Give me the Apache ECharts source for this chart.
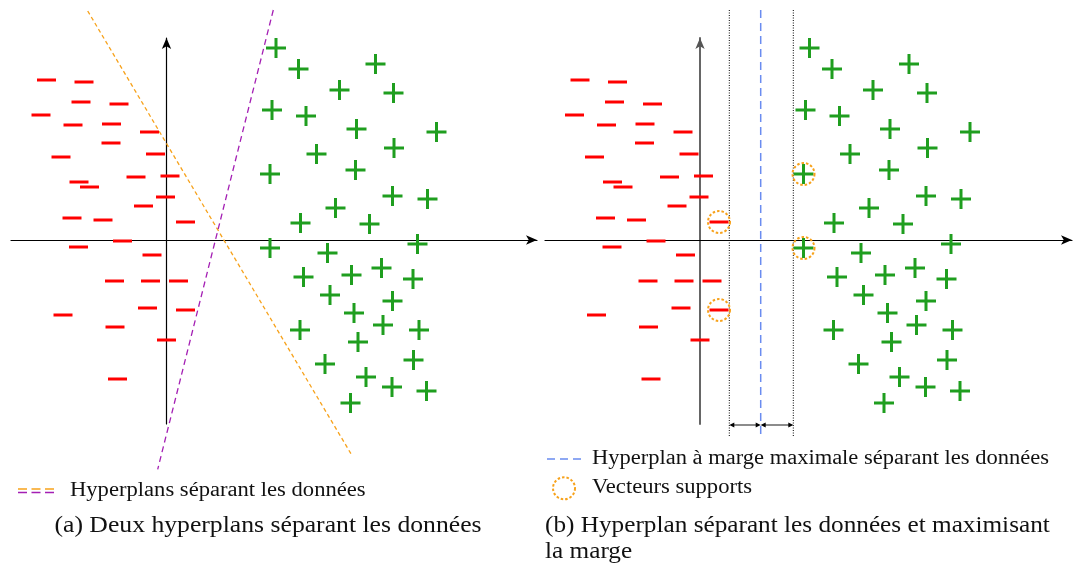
<!DOCTYPE html>
<html>
<head>
<meta charset="utf-8">
<script src="https://cdn.jsdelivr.net/npm/echarts@6/dist/echarts.min.js"></script>
<style>
html,body{margin:0;padding:0;background:#fff;}
#c{width:1079px;height:570px;}
</style>
</head>
<body>
<div id="c"></div>
<script>
// ---- data (same point cloud in both panels) ----
const minusPoints = [
  [-12.0,16.0],[-8.25,15.8],[-8.55,13.8],[-4.75,13.6],[-12.55,12.5],[-9.35,11.5],
  [-5.5,11.6],[-1.7,10.8],[-5.55,9.7],[-10.55,8.3],[-1.1,8.6],[-8.75,5.8],
  [-7.7,5.3],[-3.05,6.3],[0.35,6.4],[-0.1,4.3],[-2.3,3.4],[-9.45,2.2],
  [-6.35,2.0],[1.9,1.8],[-4.4,-0.1],[-8.8,-0.7],[-1.45,-1.5],[-5.2,-4.1],
  [-1.6,-4.1],[1.2,-4.1],[-1.9,-6.8],[1.9,-7.0],[-10.35,-7.5],[-5.15,-8.7],
  [0.0,-10.0],[-4.9,-13.9]
];
const plusPoints = [
  [10.95,19.2],[13.2,17.1],[20.9,17.6],[17.3,15.0],[22.7,14.7],[10.55,13.0],
  [13.95,12.4],[19.0,11.1],[27.0,10.8],[22.75,9.2],[15.0,8.6],[10.35,6.6],
  [18.9,7.0],[22.6,4.4],[26.1,4.1],[16.9,3.2],[13.4,1.7],[20.3,1.6],
  [10.35,-0.8],[16.1,-1.3],[25.1,-0.4],[13.7,-3.7],[18.5,-3.5],[21.5,-2.8],
  [24.65,-3.9],[16.35,-5.5],[22.6,-6.1],[18.75,-7.3],[13.35,-9.0],[21.65,-8.5],
  [25.25,-9.0],[19.15,-10.2],[15.85,-12.4],[24.7,-12.0],[19.95,-13.7],[22.55,-14.7],
  [26.0,-15.1],[18.4,-16.3]
];
const supportVectors = [[1.9,1.8],[1.9,-7.0],[10.35,6.6],[10.35,-0.8]];
const hyperplaneA1 = [[-7.88,22.9],[18.52,-21.5]];   // orange
const hyperplaneA2 = [[10.68,23.0],[-0.88,-22.93]];  // purple
const marginX = [2.93, 6.07, 9.33];                   // lower margin, optimal hyperplane, upper margin
const lineYRange = [23.0, -19.67];
const arrowY = -18.5;
const legendA = 'Hyperplans séparant les données';
const captionA = '(a) Deux hyperplans séparant les données';
const legendB1 = 'Hyperplan à marge maximale séparant les données';
const legendB2 = 'Vecteurs supports';
const captionB1 = '(b) Hyperplan séparant les données et maximisant';
const captionB2 = 'la marge';

// ---- styles ----
const RED = '#ff0000', GREEN = '#1f9e1f', ORANGE = '#f7a21b', PURPLE = '#a41fb4', BLUE = '#6a8cf0';
const PLUS = 'path://M0,8.5L20,8.5L20,11.5L0,11.5Z M8.5,0L11.5,0L11.5,20L8.5,20Z';
const SERIF = '"Liberation Serif", "DejaVu Serif", serif';

function axisX(min, max, gi){
  return {type:'value', gridIndex:gi, min:min, max:max,
    axisLine:{show:true, onZero:true, symbol:['none','arrow'], symbolSize:[7,11],
      lineStyle:{color:'#000', width:1.2}},
    axisTick:{show:false}, axisLabel:{show:false}, splitLine:{show:false}};
}
function axisY(min, max, gi, color, w){
  return {type:'value', gridIndex:gi, min:min, max:max,
    axisLine:{show:true, onZero:true, symbol:['none','arrow'], symbolSize:[7,11],
      lineStyle:{color:color, width:w}},
    axisTick:{show:false}, axisLabel:{show:false}, splitLine:{show:false}};
}
function markers(gi){
  return [
    {type:'scatter', xAxisIndex:gi, yAxisIndex:gi, data:minusPoints, symbol:'rect',
     symbolSize:[19,3], itemStyle:{color:RED, opacity:1}, silent:true, z:3},
    {type:'scatter', xAxisIndex:gi, yAxisIndex:gi, data:plusPoints, symbol:PLUS,
     symbolSize:20, itemStyle:{color:GREEN, opacity:1}, silent:true, z:3}
  ];
}
function seg(gi, pts, color, dash, width, z){
  return {type:'line', xAxisIndex:gi, yAxisIndex:gi, data:pts, showSymbol:false, symbol:'none',
    clip:false, silent:true, z:z||2, lineStyle:{color:color, type:dash, width:width}};
}

const marginArrows = [[marginX[0], marginX[1], arrowY],[marginX[1], marginX[2], arrowY]];

const series = [].concat(
  markers(0),
  [seg(0, hyperplaneA1, ORANGE, [4,3], 1.3), seg(0, hyperplaneA2, PURPLE, [6,4], 1.3)],
  markers(1),
  [
    seg(1, [[marginX[0],lineYRange[0]],[marginX[0],lineYRange[1]]], '#000', [1,1.5], 1),
    seg(1, [[marginX[2],lineYRange[0]],[marginX[2],lineYRange[1]]], '#000', [1,1.5], 1),
    seg(1, [[marginX[1],lineYRange[0]],[marginX[1],lineYRange[1]]], BLUE, [8,5], 1.5),
    {type:'custom', xAxisIndex:1, yAxisIndex:1, coordinateSystem:'cartesian2d', clip:false, silent:true, z:5,
     data:marginArrows,
     renderItem:function(params, api){
       const a = api.coord([api.value(0), api.value(2)]);
       const b = api.coord([api.value(1), api.value(2)]);
       const y = a[1];
       return {type:'group', children:[
         {type:'line', shape:{x1:a[0]+2, y1:y, x2:b[0]-2, y2:y}, style:{stroke:'#666', lineWidth:1.5}},
         {type:'polygon', shape:{points:[[a[0],y],[a[0]+5,y-2.6],[a[0]+5,y+2.6]]}, style:{fill:'#000'}},
         {type:'polygon', shape:{points:[[b[0],y],[b[0]-5,y-2.6],[b[0]-5,y+2.6]]}, style:{fill:'#000'}}
       ]};
     }},
    {type:'scatter', xAxisIndex:1, yAxisIndex:1, data:supportVectors, symbol:'circle', symbolSize:22,
     silent:true, z:4,
     itemStyle:{color:'rgba(0,0,0,0)', opacity:1, borderColor:ORANGE, borderWidth:2, borderType:[2.5,2]}}
  ]
);

const txt = (x, y, s, size, align, sx) => ({type:'text', x:x, y:y, scaleX:sx||1, silent:true,
  style:{text:s, font:size+'px '+SERIF, fill:'#111', textAlign:align||'left', textVerticalAlign:'middle'}});

const graphic = [
  {type:'line', shape:{x1:18,y1:489,x2:55,y2:489}, style:{stroke:ORANGE, lineWidth:1.3, lineDash:[9,4.5]}, silent:true},
  {type:'line', shape:{x1:18,y1:492.5,x2:55,y2:492.5}, style:{stroke:PURPLE, lineWidth:1.3, lineDash:[9,4.5]}, silent:true},
  txt(70, 491, legendA, 20, 'left', 1.13),
  txt(268, 526, captionA, 24, 'center', 1.07),
  {type:'line', shape:{x1:547,y1:459,x2:584,y2:459}, style:{stroke:BLUE, lineWidth:1.3, lineDash:[8,5]}, silent:true},
  txt(592, 458.5, legendB1, 20, 'left', 1.125),
  {type:'circle', shape:{cx:564, cy:488.3, r:11}, style:{fill:'none', stroke:ORANGE, lineWidth:2, lineDash:[2.5,2]}, silent:true},
  txt(592, 488, legendB2, 20, 'left', 1.13),
  txt(545, 526, captionB1, 24, 'left', 1.052),
  txt(545, 552, captionB2, 24, 'left', 1.052)
];

const chart = echarts.init(document.getElementById('c'), null, {renderer:'canvas'});
chart.setOption({
  animation:false,
  backgroundColor:'#fff',
  grid:[
    {left:11, top:38, width:526, height:386},
    {left:545, top:38, width:527, height:386}
  ],
  xAxis:[axisX(-15.55, 37.05, 0), axisX(-15.5, 37.2, 1)],
  yAxis:[axisY(-18.4, 20.2, 0, '#000', 1.2), axisY(-18.4, 20.2, 1, '#555', 1.8)],
  series:series,
  graphic:graphic
});
</script>
</body>
</html>
